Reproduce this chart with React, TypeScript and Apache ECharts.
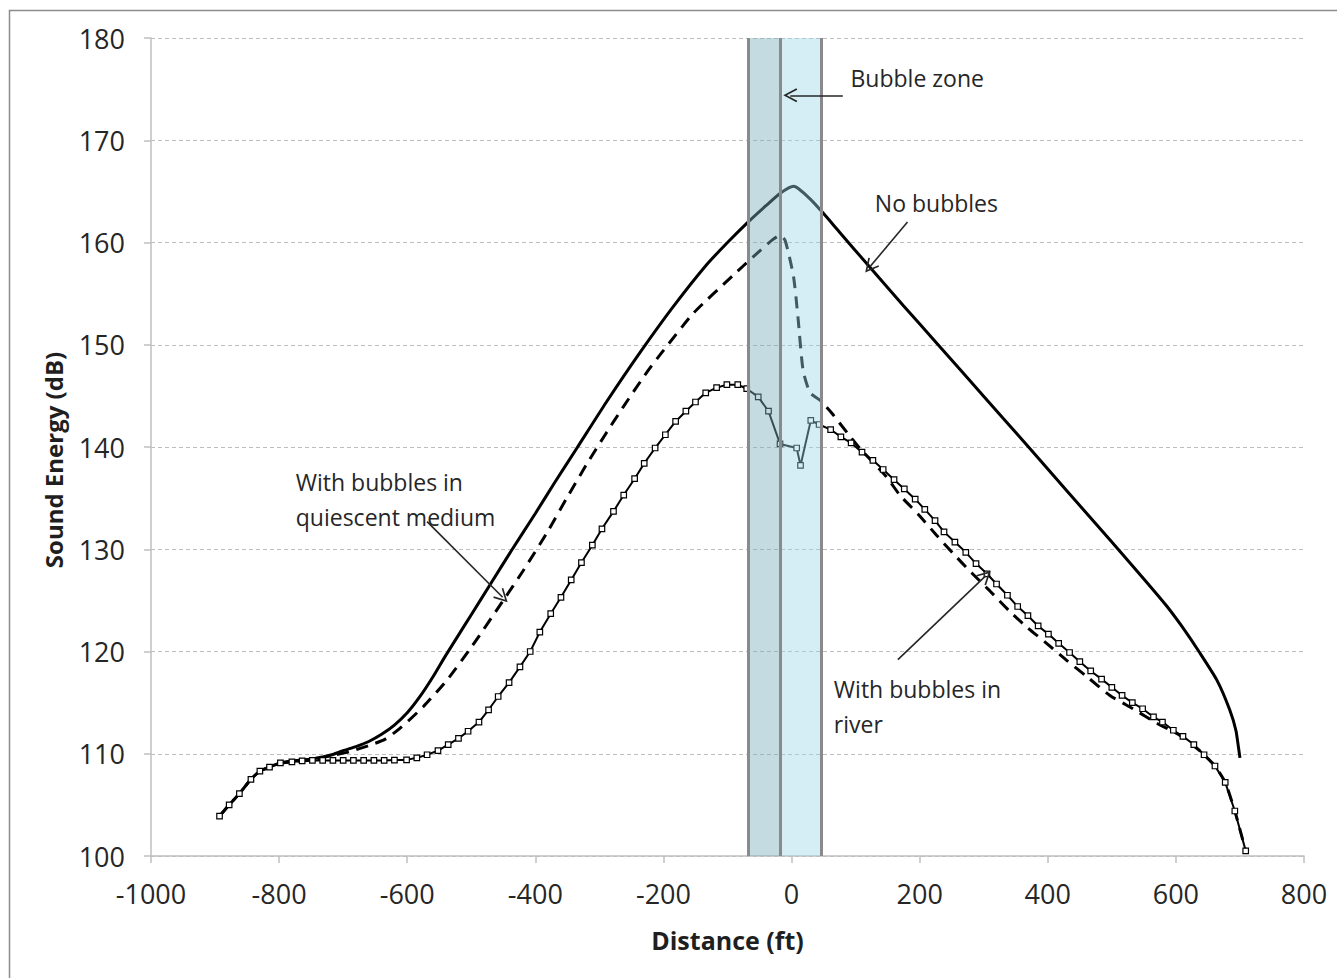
import React, { useEffect, useRef } from "react";
import * as echarts from "echarts";

// Distance along the river (ft) and sound energy level (dB)
const noBubbles: [number, number][] = [
  [-893, 103.9], [-878, 105.0], [-862, 106.1], [-844, 107.5], [-830, 108.3], [-815, 108.7],
  [-798, 109.1], [-780, 109.3], [-764, 109.4], [-748, 109.5], [-730, 109.7], [-715, 109.95],
  [-700, 110.3], [-680, 110.7], [-660, 111.2], [-640, 111.9], [-620, 112.8], [-600, 114.0],
  [-580, 115.6], [-560, 117.5], [-541, 119.5], [-520, 121.6], [-500, 123.6], [-470, 126.6],
  [-437, 129.9], [-400, 133.5], [-370, 136.5], [-335, 139.9], [-289, 144.4], [-237, 149.2],
  [-185, 153.7], [-133, 157.8], [-100, 160.0], [-68, 162.0], [-40, 163.6], [-18, 164.8],
  [3, 165.5], [10, 165.3], [30, 164.2], [49, 162.9], [75, 161.0], [122, 157.6],
  [175, 153.8], [226, 150.2], [305, 144.6], [370, 140.0], [430, 135.7], [500, 130.7],
  [550, 127.1], [585, 124.5], [610, 122.4], [637, 119.9], [664, 117.2], [684, 114.3],
  [694, 112.2], [700, 109.6],
];

const quiescent: [number, number][] = [
  [-893, 103.9], [-878, 105.0], [-862, 106.1], [-844, 107.5], [-830, 108.3], [-815, 108.7],
  [-798, 109.1], [-780, 109.2], [-764, 109.3], [-748, 109.4], [-720, 109.8], [-690, 110.2],
  [-660, 110.8], [-635, 111.4], [-611, 112.5], [-575, 114.6], [-538, 117.2], [-499, 120.5],
  [-450, 125.0], [-419, 127.9], [-382, 131.6], [-351, 135.0], [-320, 138.3], [-290, 141.3],
  [-263, 143.9], [-226, 147.3], [-203, 149.2], [-153, 153.1], [-91, 156.8], [-60, 158.6],
  [-29, 160.3], [-18, 160.7], [-10, 160.2], [3, 156.7], [10, 152.7], [18, 147.5],
  [29, 145.3], [44, 144.6], [63, 143.3], [88, 141.3], [109, 139.7], [148, 137.1],
  [169, 135.3], [198, 133.4], [226, 131.4], [252, 129.6], [281, 127.7], [310, 125.9],
  [341, 123.9], [367, 122.4], [400, 120.7], [430, 119.1], [460, 117.6], [497, 115.7],
  [533, 114.4], [570, 113.0], [606, 111.8], [637, 110.3], [661, 108.8], [677, 107.2],
  [692, 104.4], [709, 100.5],
];

const river: [number, number][] = [
  [-893, 103.9], [-878, 105.0], [-862, 106.1], [-844, 107.5], [-830, 108.3], [-815, 108.7],
  [-798, 109.1], [-780, 109.2], [-764, 109.3], [-748, 109.35], [-732, 109.35], [-716, 109.35],
  [-700, 109.35], [-684, 109.35], [-668, 109.35], [-652, 109.35], [-636, 109.35], [-620, 109.38],
  [-601, 109.4], [-585, 109.6], [-569, 109.9], [-552, 110.3], [-536, 110.9], [-520, 111.5],
  [-505, 112.2], [-488, 113.1], [-473, 114.3], [-458, 115.6], [-441, 116.95], [-424, 118.5],
  [-408, 120.0], [-393, 121.9], [-376, 123.7], [-360, 125.3], [-344, 127.0], [-328, 128.7],
  [-311, 130.4], [-296, 132.0], [-278, 133.7], [-262, 135.3], [-245, 136.9], [-230, 138.4],
  [-213, 139.9], [-197, 141.2], [-181, 142.5], [-165, 143.5], [-150, 144.4], [-134, 145.3],
  [-117, 145.8], [-101, 146.1], [-84, 146.1], [-70, 145.7], [-52, 144.9], [-36, 143.5],
  [-18, 140.3], [8, 139.9], [14, 138.2], [30, 142.6], [43, 142.2], [61, 141.7],
  [77, 141.0], [93, 140.4], [110, 139.5], [127, 138.7], [143, 137.8], [160, 136.8],
  [176, 135.9], [193, 134.9], [208, 133.9], [224, 132.8], [238, 131.7], [255, 130.7],
  [272, 129.7], [288, 128.6], [305, 127.6], [320, 126.6], [337, 125.5], [353, 124.4],
  [369, 123.5], [385, 122.5], [401, 121.7], [417, 120.8], [434, 119.9], [450, 119.0],
  [467, 118.1], [484, 117.3], [500, 116.5], [516, 115.7], [532, 115.0], [548, 114.4],
  [565, 113.6], [579, 113.1], [596, 112.3], [611, 111.7], [628, 110.9], [644, 109.9],
  [661, 108.8], [677, 107.2], [692, 104.4], [709, 100.5],
];

// Bubble zone edges (ft): outer left, centre, outer right
const bubbleZone = [-67, -18, 47];

// Callout texts: [x, y, text] (top-left anchor of each text block)
const callouts: [number, number, string][] = [
  [92, 177.8, "Bubble zone"],
  [130, 165.6, "No bubbles"],
  [-774, 138.3, "With bubbles in\nquiescent medium"],
  [66, 118.0, "With bubbles in\nriver"],
];

// Callout arrows: [tailX, tailY, tipX, tipY]
const arrows: [number, number, number, number][] = [
  [80, 174.4, -2, 174.4],
  [181, 162.0, 122, 157.6],
  [-569, 132.7, -451, 125.3],
  [166, 119.2, 303, 127.4],
];

const xTicks = { min: -1000, max: 800, interval: 200 };
const yTicks = { min: 100, max: 180, interval: 10 };

const FONT = "'Open Sans', 'Noto Sans', sans-serif";
const OPEN_ARROW = "path://M0,0 L7,12 L5.6,12.8 L0,3.2 L-5.6,12.8 L-7,12 Z";

export default function App() {
  const ref = useRef<HTMLDivElement>(null);

  useEffect(() => {
    if (!ref.current) return;
    const chart = echarts.init(ref.current, null, { renderer: "svg" });

    const option: echarts.EChartsOption = {
      animation: false,
      backgroundColor: "#ffffff",
      textStyle: { fontFamily: FONT },
      grid: { left: 151, right: 33, top: 38, bottom: 122, containLabel: false },
      graphic: [
        {
          type: "rect",
          left: 7,
          top: 8,
          silent: true,
          shape: { width: 1400, height: 1000 },
          style: { fill: "none", stroke: "#8c8c8c", lineWidth: 1.5 },
        },
      ],
      xAxis: {
        type: "value",
        min: xTicks.min,
        max: xTicks.max,
        interval: xTicks.interval,
        name: "Distance (ft)",
        nameLocation: "middle",
        nameGap: 71,
        nameTextStyle: { fontSize: 25, fontWeight: "bold", color: "#1f1f1f", fontFamily: FONT },
        axisLine: { show: true, onZero: false, lineStyle: { color: "#bfbfbf", width: 1.5 } },
        axisTick: { show: true, length: 7, lineStyle: { color: "#bfbfbf", width: 1.5 } },
        axisLabel: {
          fontSize: 27,
          color: "#262626",
          margin: 24,
          fontFamily: FONT,
          formatter: (v: number) => String(v),
        },
        splitLine: { show: false },
      },
      yAxis: {
        type: "value",
        min: yTicks.min,
        max: yTicks.max,
        interval: yTicks.interval,
        name: "Sound Energy (dB)",
        nameLocation: "middle",
        nameGap: 86,
        nameTextStyle: {
          fontSize: 24,
          fontWeight: "bold",
          color: "#1f1f1f",
          fontFamily: FONT,
          padding: [0, 26, 0, 0],
        },
        axisLine: { show: true, onZero: false, lineStyle: { color: "#bfbfbf", width: 1.5 } },
        axisTick: { show: true, length: 7, lineStyle: { color: "#bfbfbf", width: 1.5 } },
        axisLabel: {
          fontSize: 27,
          color: "#262626",
          margin: 26,
          fontFamily: FONT,
          formatter: (v: number) => String(v),
        },
        splitLine: { show: true, lineStyle: { color: "#bdbdbd", width: 1, type: [4, 3] } },
      },
      series: [
        {
          name: "No bubbles",
          type: "line",
          data: noBubbles,
          showSymbol: false,
          smooth: 0.2,
          z: 3,
          lineStyle: { color: "#000000", width: 3 },
        },
        {
          name: "With bubbles in quiescent medium",
          type: "line",
          data: quiescent,
          showSymbol: false,
          smooth: 0.2,
          z: 3,
          lineStyle: { color: "#000000", width: 3, type: [12, 8] },
        },
        {
          name: "With bubbles in river",
          type: "line",
          data: river,
          symbol: "rect",
          symbolSize: 5.5,
          showAllSymbol: true,
          z: 4,
          lineStyle: { color: "#000000", width: 2 },
          itemStyle: { color: "#ffffff", borderColor: "#000000", borderWidth: 1.2 },
        },
        {
          // Bubble zone band drawn over the curves, plus its boundary lines
          name: "Bubble zone",
          type: "line",
          data: [],
          z: 10,
          markArea: {
            silent: true,
            z: 10,
            data: [
              [
                { xAxis: bubbleZone[0], itemStyle: { color: "rgba(120,172,188,0.44)" } },
                { xAxis: bubbleZone[1] },
              ],
              [
                { xAxis: bubbleZone[1], itemStyle: { color: "rgba(155,212,228,0.42)" } },
                { xAxis: bubbleZone[2] },
              ],
            ],
          },
          markLine: {
            silent: true,
            z: 11,
            symbol: ["none", "none"],
            label: { show: false },
            lineStyle: { color: "#8a8a8a", width: 3, type: "solid" },
            data: bubbleZone.map((x) => ({ xAxis: x })),
          },
        },
        {
          // Callout texts and arrows
          name: "Callouts",
          type: "line",
          data: [],
          z: 12,
          markLine: {
            silent: true,
            z: 12,
            symbol: ["none", OPEN_ARROW],
            symbolSize: [14, 14],
            label: { show: false },
            lineStyle: { color: "#262626", width: 1.6, type: "solid" },
            data: arrows.map(([x1, y1, x2, y2]) => [
              { coord: [x1, y1] },
              { coord: [x2, y2] },
            ]) as any,
          },
          markPoint: {
            silent: true,
            z: 12,
            symbol: "circle",
            symbolSize: 0,
            itemStyle: { color: "transparent" },
            label: {
              show: true,
              position: [0, 0],
              align: "left",
              verticalAlign: "top",
              fontSize: 23,
              lineHeight: 35,
              color: "#262626",
              fontFamily: FONT,
              formatter: (p: any) => p.data.value,
            },
            data: callouts.map(([x, y, t]) => ({ coord: [x, y], value: t })) as any,
          },
        },
      ],
    };

    chart.setOption(option);
    return () => chart.dispose();
  }, []);

  return (
    <div
      ref={ref}
      style={{ position: "fixed", left: 0, top: 0, width: 1337, height: 978 }}
    />
  );
}
